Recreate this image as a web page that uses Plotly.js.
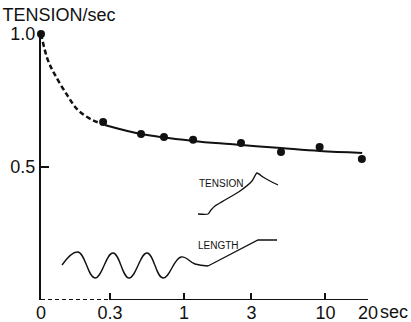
<!DOCTYPE html>
<html>
<head>
<meta charset="utf-8">
<script src="https://cdn.plot.ly/plotly-3.0.1.min.js"></script>
<style>html,body{margin:0;padding:0;background:#fff;}#chart{width:411px;height:322px;}</style>
</head>
<body>
<div id="chart"></div>
<script>
// stand-in value for "0" on the logarithmic time axis
const ZERO = 0.0975;

// x tick values and labels
const xTickVals = [ZERO, 0.3, 1, 3, 10, 20];
const xTickText = ['0', '0.3', '1', '3', '10', '20'];
const yTickVals = [0.5, 1.0];
const yTickText = ['0.5', '1.0'];

// measured points (time in sec, tension/sec)
const pointX = [0.268, 0.497, 0.722, 1.16, 2.53, 4.85, 9.1, 18.1];
const pointY = [0.669, 0.624, 0.613, 0.602, 0.590, 0.556, 0.575, 0.530];

// starting point
const startX = [ZERO];
const startY = [1.0];

// dashed extrapolated curve
const dashX = [ZERO, 0.109, 0.1225, 0.149, 0.178, 0.224, 0.268];
const dashY = [1.0, 0.902, 0.846, 0.771, 0.714, 0.677, 0.662];

// solid fitted curve
const fitX = [0.275, 0.5, 1.16, 2.11, 4.85, 9.1, 18.2];
const fitY = [0.658, 0.624, 0.598, 0.586, 0.571, 0.560, 0.553];

// axis baseline segments
const baseDashX = [ZERO, 0.3];
const baseSolidX = [0.3, 20];
const baseY = [0, 0];

// inset schematic traces (arbitrary inset units)
const lenWaveX = [21, 37, 54, 72, 88, 106, 122, 140, 154, 167];
const lenWaveY = [35, 48, 22, 47, 22, 47, 22, 43, 36, 34];
const lenRampX = [167, 217, 236];
const lenRampY = [34, 60, 60];
const tenX = [157, 167, 170, 174, 184, 199, 211, 216, 222, 229, 237];
const tenY = [86, 86, 90, 94, 100, 109, 119, 127, 123, 119, 115];

const INK = '#111';
const FONT = 'Liberation Sans, Arial, sans-serif';
const NARROW = 'Liberation Sans Narrow, Liberation Sans, Arial, sans-serif';

const traces = [
  {x: baseDashX, y: baseY, mode: 'lines', line: {color: INK, width: 2, dash: '4px,3px'}, cliponaxis: false, hoverinfo: 'skip'},
  {x: baseSolidX, y: baseY, mode: 'lines', line: {color: INK, width: 2}, cliponaxis: false, hoverinfo: 'skip'},
  {x: dashX, y: dashY, mode: 'lines', line: {color: INK, width: 2.5, dash: '5px,3px', shape: 'spline'}, cliponaxis: false},
  {x: fitX, y: fitY, mode: 'lines', line: {color: INK, width: 2, shape: 'spline'}, cliponaxis: false},
  {x: pointX, y: pointY, mode: 'markers', marker: {color: INK, size: 8}, cliponaxis: false},
  {x: startX, y: startY, mode: 'markers', marker: {color: INK, size: 8}, cliponaxis: false},
  {x: lenWaveX, y: lenWaveY, xaxis: 'x2', yaxis: 'y2', mode: 'lines', line: {color: INK, width: 1.4, shape: 'spline', smoothing: 1.2}},
  {x: lenRampX, y: lenRampY, xaxis: 'x2', yaxis: 'y2', mode: 'lines', line: {color: INK, width: 1.3}},
  {x: tenX, y: tenY, xaxis: 'x2', yaxis: 'y2', mode: 'lines', line: {color: INK, width: 1.3, shape: 'spline', smoothing: 0.6}}
];

const layout = {
  width: 411, height: 322,
  margin: {l: 41, r: 43, t: 34, b: 22, pad: 0},
  paper_bgcolor: '#fff', plot_bgcolor: '#fff',
  showlegend: false,
  font: {family: FONT, color: INK, size: 16},
  title: {text: 'TENSION/sec', x: 0.006, xref: 'container', xanchor: 'left', y: 0.955, yref: 'container', yanchor: 'middle',
          font: {family: FONT, size: 18, color: INK}},
  xaxis: {type: 'log', range: [Math.log10(ZERO), Math.log10(20)], tickvals: xTickVals, ticktext: xTickText,
          ticks: 'inside', ticklen: 7, tickwidth: 2, tickcolor: INK, showgrid: false, zeroline: false, showline: false,
          tickfont: {family: FONT, size: 18, color: INK}, fixedrange: true},
  yaxis: {range: [0, 1.0], tickvals: yTickVals, ticktext: yTickText, ticks: 'inside', ticklen: 8, tickwidth: 2, tickcolor: INK,
          showline: true, linewidth: 2, linecolor: INK, showgrid: false, zeroline: false,
          tickfont: {family: FONT, size: 18, color: INK}, fixedrange: true},
  xaxis2: {overlaying: 'x', range: [0, 327], visible: false, fixedrange: true},
  yaxis2: {overlaying: 'y', range: [0, 266], visible: false, fixedrange: true},
  annotations: [
    {text: 'sec', xref: 'paper', yref: 'paper', x: 1.03, y: -0.045, xanchor: 'left', yanchor: 'middle', showarrow: false,
     font: {family: FONT, size: 18, color: INK}},
    {text: 'TENSION', xref: 'x2', yref: 'y2', x: 180, y: 117, showarrow: false, font: {family: NARROW, size: 10, color: INK}},
    {text: 'LENGTH', xref: 'x2', yref: 'y2', x: 177, y: 55, showarrow: false, font: {family: NARROW, size: 10, color: INK}}
  ]
};

Plotly.newPlot('chart', traces, layout, {displayModeBar: false, staticPlot: true});
</script>
</body>
</html>
